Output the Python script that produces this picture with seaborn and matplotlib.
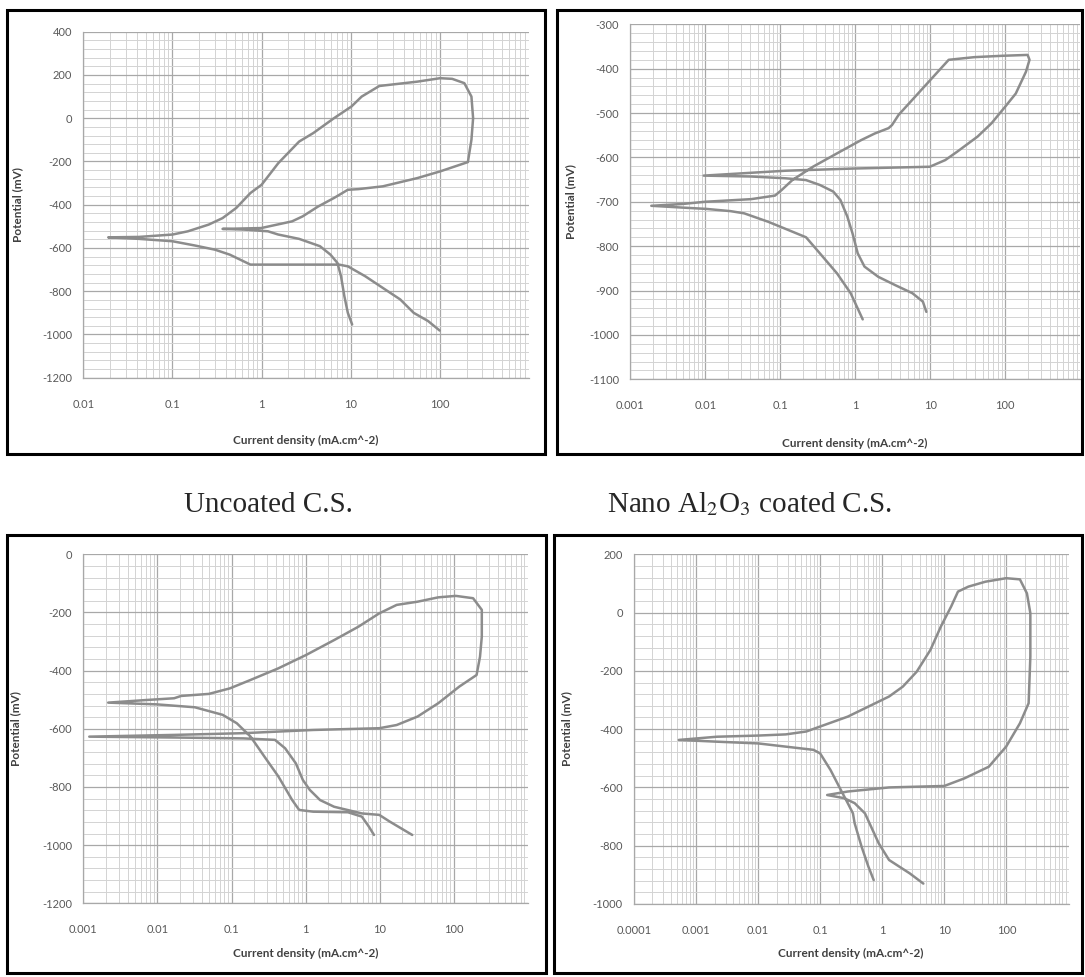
import matplotlib
matplotlib.use('Agg')
import matplotlib.pyplot as plt
import matplotlib.ticker as mticker
from matplotlib.patches import Rectangle
import seaborn as sns
import pandas as pd

sns.set_style('white')
plt.rcParams['font.family'] = ['Lato', 'DejaVu Sans']
plt.rcParams['axes.unicode_minus'] = False
plt.rcParams['mathtext.fontset'] = 'stix'

# top-left panel
a_current = [100, 74, 51, 36, 23, 14.6, 9.3, 7.4, 0.75, 0.44, 0.30, 0.18, 0.10, 0.042, 0.019,
             0.042, 0.10, 0.149, 0.255, 0.365, 0.52, 0.75, 1.0, 1.54, 2.64, 3.8, 6.5, 10.2, 13.3, 21,
             56, 101, 138, 189, 227, 237, 227, 207, 101, 56, 23, 12.2, 9.3, 6.5, 4.33, 2.89, 2.2,
             0.99, 0.365,
             0.63, 1.18, 1.54, 2.64, 4.53, 5.94, 7.1, 7.8, 8.5, 9.3, 10.4]
a_potential = [-982, -938, -900, -838, -785, -731, -685, -677, -677, -631, -608, -589, -569, -558, -551,
               -549, -538, -523, -492, -462, -415, -346, -308, -208, -108, -69, 0, 54, 100, 149,
               169, 185, 182, 162, 100, 0, -100, -203, -246, -277, -315, -328, -331, -369, -408,
               -454, -477, -508, -512,
               -515, -523, -538, -558, -592, -631, -669, -731, -823, -900, -954]

# top-right panel
b_current = [1.26, 0.87, 0.57, 0.337, 0.221, 0.130, 0.069, 0.033, 0.0216, 0.0103, 0.0049, 0.0019,
             0.0049, 0.0098, 0.041, 0.085, 0.105, 0.145, 0.273, 0.57, 1.2, 1.83, 2.79, 3.1, 3.8,
             5.25, 8.0, 12.2, 17.7, 39, 91, 200, 212, 190, 139, 100, 66, 43, 23, 15.9, 9.9, 0.97,
             0.117, 0.0095,
             0.041, 0.117, 0.22, 0.337, 0.51, 0.635, 0.784, 0.92, 1.08, 1.33, 2.03, 3.44, 5.8, 8.0, 8.9]
b_potential = [-965, -906, -861, -816, -780, -764, -745, -726, -721, -716, -713, -709,
               -705, -700, -694, -686, -673, -651, -621, -591, -561, -546, -534, -527, -504,
               -478, -444, -410, -380, -374, -371, -369, -380, -407, -456, -486, -523, -553, -587,
               -606, -621, -625, -630, -641,
               -643, -647, -651, -662, -677, -696, -733, -771, -816, -846, -869, -888, -906, -925, -948]

# bottom-left panel
c_current = [8.4, 7.15, 5.76, 3.74, 1.27, 0.82, 0.66, 0.43, 0.279, 0.181, 0.118, 0.076, 0.032, 0.0098, 0.00216,
             0.0071, 0.0168, 0.0209, 0.0495, 0.095, 0.181, 0.43, 1.02, 2.43, 5.17, 9.9, 17, 32.5, 62,
             107, 183, 240, 240, 227, 204, 119, 62, 32.5, 17, 9.9, 1.27, 0.146, 0.0168, 0.0012,
             0.0168, 0.146, 0.386, 0.53, 0.74, 0.92, 1.14, 1.57, 2.43, 5.76, 9.9, 13.7, 27.6]
c_potential = [-965, -936, -902, -887, -885, -879, -845, -764, -696, -627, -581, -552, -526, -516, -510,
               -501, -495, -487, -480, -461, -432, -392, -346, -295, -249, -203, -174, -163, -148,
               -143, -151, -191, -283, -352, -415, -455, -512, -558, -587, -598, -604, -615, -621, -627,
               -630, -633, -638, -667, -719, -776, -810, -845, -868, -891, -896, -919, -965]

# bottom-right panel
d_current = [0.73, 0.6, 0.465, 0.36, 0.338, 0.279, 0.216, 0.147, 0.1, 0.078, 0.028, 0.0101, 0.00218, 0.00053,
             0.00218, 0.0101, 0.028, 0.060, 0.1, 0.279, 0.775, 1.29, 2.15, 3.59, 5.98, 8.8, 12.9, 16.6,
             24.4, 46, 99, 165, 214, 243, 243, 228, 165, 99, 52, 21, 10, 1.29, 0.279, 0.13,
             0.245, 0.36, 0.528, 0.68, 0.88, 1.29, 2.78, 4.6]
d_potential = [-918, -872, -803, -723, -689, -654, -609, -540, -483, -471, -460, -449, -443, -437,
               -426, -422, -418, -408, -391, -357, -311, -288, -254, -203, -128, -48, 21, 72,
               89, 106, 118, 114, 66, -2, -151, -311, -380, -460, -529, -569, -595, -600, -614, -626,
               -637, -654, -689, -740, -792, -849, -895, -930]

captions = ['Uncoated C.S.', 'Nano Al$_2$O$_3$ coated C.S.']

W, H = 1085, 977
fig = plt.figure(figsize=(W / 100, H / 100), dpi=100)


def px_rect(x0, y0, x1, y1):
    return [x0 / W, 1 - y1 / H, (x1 - x0) / W, (y1 - y0) / H]


def draw_panel(box, area, cur, pot, xlim, ylim, ystep, xlab_pos, ylab_pos):
    fig.patches.append(Rectangle((box[0] / W, 1 - box[3] / H), (box[2] - box[0]) / W,
                                 (box[3] - box[1]) / H, transform=fig.transFigure,
                                 fill=False, lw=2.2, ec='black'))
    ax = fig.add_axes(px_rect(*area))
    df = pd.DataFrame({'current': cur, 'potential': pot})
    sns.lineplot(data=df, x='current', y='potential', sort=False, estimator=None,
                 color='#8c8c8c', lw=1.8, ax=ax)
    ax.set_xscale('log')
    ax.set_xlim(*xlim)
    ax.set_ylim(*ylim)
    lo, hi = xlim
    majors = []
    v = lo
    while v < hi * 0.99:
        majors.append(v)
        v *= 10
    ax.xaxis.set_major_locator(mticker.FixedLocator(majors))
    ax.xaxis.set_major_formatter(mticker.FuncFormatter(lambda val, p: f'{val:g}'))
    ax.xaxis.set_minor_locator(mticker.LogLocator(base=10, subs=range(2, 10), numticks=100))
    ax.xaxis.set_minor_formatter(mticker.NullFormatter())
    ax.yaxis.set_major_locator(mticker.MultipleLocator(ystep))
    ax.yaxis.set_minor_locator(mticker.MultipleLocator(ystep / 5))
    ax.yaxis.set_major_formatter(mticker.FuncFormatter(lambda val, p: f'{val:.0f}'))
    ax.set_axisbelow(True)
    ax.grid(which='major', color='#a8a8a8', lw=0.9)
    ax.grid(which='minor', color='#d3d3d3', lw=0.7)
    for s in ['top', 'right']:
        ax.spines[s].set_visible(False)
    for s in ['left', 'bottom']:
        ax.spines[s].set_color('#a8a8a8')
        ax.spines[s].set_linewidth(0.9)
    ax.tick_params(which='minor', length=0)
    ax.tick_params(axis='x', which='major', length=3, color='#a8a8a8', pad=12,
                   labelsize=8, labelcolor='#595959')
    ax.tick_params(axis='y', which='major', length=3, color='#a8a8a8', pad=5,
                   labelsize=8, labelcolor='#595959')
    ax.set_xlabel('')
    ax.set_ylabel('')
    fig.text(xlab_pos[0] / W, 1 - xlab_pos[1] / H, 'Current density (mA.cm^-2)',
             ha='center', va='center', fontsize=8.5, fontweight='bold', color='#404040')
    fig.text(ylab_pos[0] / W, 1 - ylab_pos[1] / H, 'Potential (mV)', rotation=90,
             ha='center', va='center', fontsize=8.5, fontweight='bold', color='#404040')
    return ax


draw_panel((7, 10, 545, 454), (83.4, 31.7, 528.8, 377.7), a_current, a_potential,
           (0.01, 1000), (-1200, 400), 200, (306, 440), (18, 205))
draw_panel((557, 10, 1082, 454), (630.4, 24.3, 1080, 379.3), b_current, b_potential,
           (0.001, 1000), (-1100, -300), 100, (855, 443), (571, 202))
draw_panel((7, 535, 546, 973), (83.4, 554.3, 527.7, 903.3), c_current, c_potential,
           (0.001, 1000), (-1200, 0), 200, (306, 953), (16, 729))
draw_panel((554, 535, 1082, 973), (633.8, 554.3, 1068.5, 904), d_current, d_potential,
           (0.0001, 1000), (-1000, 200), 200, (851, 953), (567, 729))

fig.text(268 / W, 1 - 512.5 / H, captions[0], ha='center', va='baseline',
         family='Liberation Serif', fontsize=21)
fig.text(750 / W, 1 - 512.5 / H, captions[1], ha='center', va='baseline',
         family='Liberation Serif', fontsize=21)

fig.savefig('out.png', dpi=100, facecolor='white')
